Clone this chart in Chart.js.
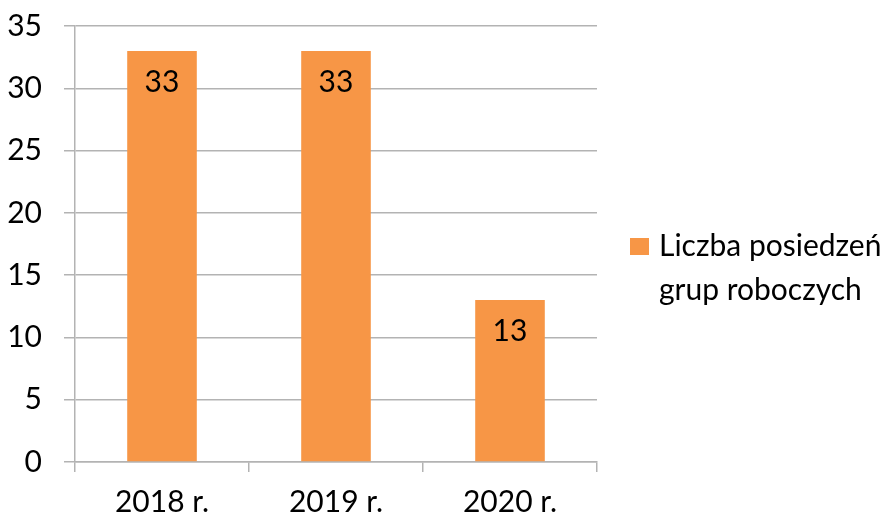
<!DOCTYPE html>
<html>
<head>
<meta charset="utf-8">
<script src="https://cdn.jsdelivr.net/npm/chart.js@4"></script>
<style>
    html, body { margin: 0; padding: 0; background: #fff; }
    #wrap { width: 893px; height: 520px; position: relative; }
</style>
</head>
<body>
<div id="wrap"><canvas id="chart" width="893" height="520"></canvas></div>
<script>
const categories = ['2018 r.', '2019 r.', '2020 r.'];
const meetings = [33, 33, 13];
const seriesLabel = ['Liczba posiedzeń', 'grup roboczych'];
const yTicks = [0, 5, 10, 15, 20, 25, 30, 35];

const FONT = 'Lato, "Open Sans", sans-serif';
const SIZE = 30;

// values written inside the top of each bar
const barLabels = {
    id: 'barLabels',
    afterDatasetsDraw(chart) {
        const ctx = chart.ctx;
        const meta = chart.getDatasetMeta(0);
        ctx.save();
        ctx.font = SIZE + 'px ' + FONT;
        ctx.fillStyle = '#000';
        ctx.textAlign = 'center';
        ctx.textBaseline = 'middle';
        meta.data.forEach(function (bar, i) {
            ctx.fillText(String(meetings[i]), bar.x, bar.y + 31);
        });
        ctx.restore();
    }
};

// legend on the right, wrapped on two lines
const sideLegend = {
    id: 'sideLegend',
    afterDraw(chart) {
        const ctx = chart.ctx;
        const x = chart.chartArea.right + 33;
        const y = 246;
        ctx.save();
        ctx.fillStyle = '#F79646';
        ctx.fillRect(x, y - 8, 19, 17);
        ctx.font = SIZE + 'px ' + FONT;
        ctx.fillStyle = '#000';
        ctx.textAlign = 'left';
        ctx.textBaseline = 'middle';
        seriesLabel.forEach(function (line, i) {
            ctx.fillText(line, x + 29, y + i * 44);
        });
        ctx.restore();
    }
};

const ctx = document.getElementById('chart').getContext('2d');
new Chart(ctx, {
    type: 'bar',
    data: {
        labels: categories,
        datasets: [{
            label: seriesLabel.join(' '),
            data: meetings,
            backgroundColor: '#F79646',
            categoryPercentage: 1,
            barPercentage: 0.4
        }]
    },
    options: {
        responsive: false,
        animation: false,
        layout: {
            padding: { top: 26, right: 296, left: 0, bottom: 0 }
        },
        plugins: {
            legend: { display: false },
            tooltip: { enabled: false }
        },
        scales: {
            y: {
                min: 0,
                max: 35,
                afterFit(scale) {
                    scale.width = 75;
                    scale.paddingTop = 0;
                    scale.paddingBottom = 0;
                },
                afterBuildTicks(scale) {
                    scale.ticks = yTicks.map(v => ({ value: v }));
                },
                ticks: {
                    color: '#000',
                    padding: 22,
                    font: { family: FONT, size: SIZE }
                },
                grid: {
                    color: '#B3B3B3',
                    lineWidth: 1.5,
                    tickLength: 11
                },
                border: { display: true, color: '#B3B3B3', width: 1.5 }
            },
            x: {
                afterFit(scale) {
                    scale.height = 58;
                    scale.paddingLeft = 0;
                    scale.paddingRight = 0;
                },
                ticks: {
                    color: '#000',
                    padding: 12,
                    font: { family: FONT, size: SIZE }
                },
                grid: {
                    offset: true,
                    drawOnChartArea: false,
                    color: '#B3B3B3',
                    lineWidth: 1.5,
                    tickLength: 10
                },
                border: { display: true, color: '#B3B3B3', width: 1.5 }
            }
        }
    },
    plugins: [barLabels, sideLegend]
});
</script>
</body>
</html>
